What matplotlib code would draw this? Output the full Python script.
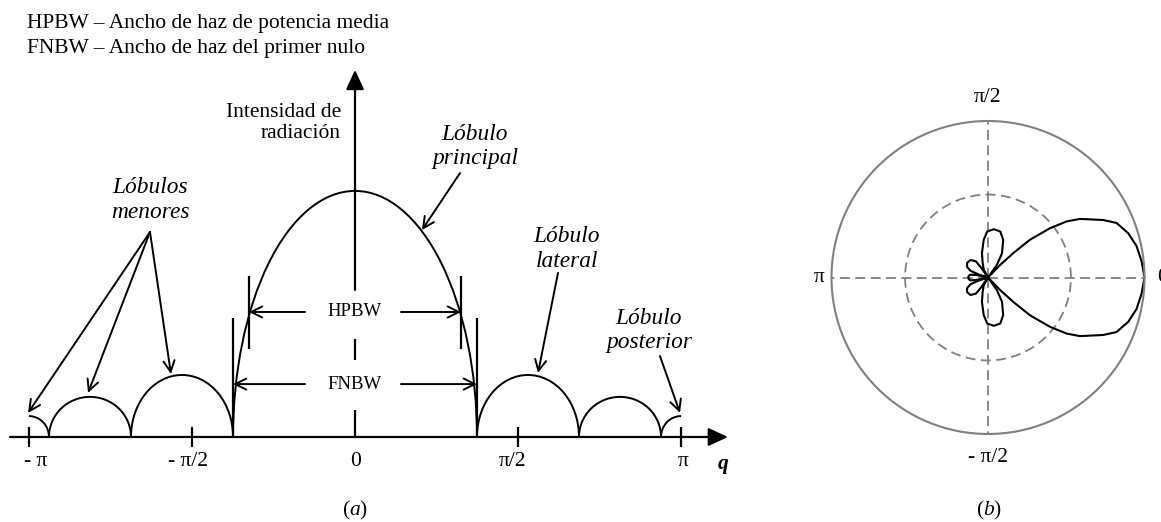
import numpy as np
import matplotlib
matplotlib.use("Agg")
import matplotlib.pyplot as plt
from matplotlib.patches import Arc

plt.rcParams['font.family'] = ['Liberation Serif', 'DejaVu Serif']
plt.rcParams['mathtext.fontset'] = 'custom'
plt.rcParams['mathtext.rm'] = 'Liberation Serif'
plt.rcParams['mathtext.it'] = 'Liberation Serif:italic'

# ---------------- (a) rectangular radiation pattern ----------------
# nulls of the pattern (rad), symmetric about 0
null_angles = [1.175, 2.158, 2.948]
# peak intensity of main lobe, first side lobe, second side lobe, back lobe
lobe_peaks = [1.0, 0.252, 0.163, 0.085]
# half-power beam half-width (rad) and half-power level
hpbw_half = 1.021
half_power = 0.508

tick_values = [-np.pi, -np.pi / 2, np.pi / 2, np.pi]
tick_label_x = [-3.073, -1.609, 0.01, 1.522, 3.160]
tick_labels = ['- π', '- π/2', '0', 'π/2', 'π']

# ---------------- (b) polar pattern (upper half, degrees / normalised r) ----
polar_theta_deg = [0, 6, 12, 17.5, 23, 26.5, 32.5, 35.5, 38.5, 42, 44, 46, 49,
                   53, 55, 60, 68, 75, 83, 91, 96.5, 104, 110, 119, 122,
                   124, 125, 127, 135, 145, 153, 159, 162, 164,
                   166, 168, 171, 176, 180]
polar_r = [1.0, 0.987, 0.97, 0.94, 0.892, 0.823, 0.697, 0.617, 0.506, 0.36, 0.224, 0.11, 0.0,
           0.0, 0.10, 0.179, 0.259, 0.304, 0.311, 0.294, 0.242, 0.16, 0.10, 0.056, 0.0,
           0.0, 0.08, 0.13, 0.158, 0.163, 0.15, 0.12, 0.06, 0.0,
           0.0, 0.08, 0.115, 0.125, 0.125]
half_power_circle = 0.53
polar_tick_deg = [0, 90, 180, 270]
polar_tick_labels = ['0', 'π/2', 'π', '- π/2']

W, H = 1161, 522
fig = plt.figure(figsize=(W / 100, H / 100), dpi=100)
fig.patch.set_facecolor('white')

ax = fig.add_axes([0, 0, 740 / W, 1])
ax.set_xlim(-3.420, 3.709)
ax.set_ylim(-0.3455, 1.776)
ax.axis('off')

LW_LOBE = 1.4
LW_AX = 1.6
FS = 15.5
FS_IT = 16.8

# lobes as elliptical arcs between consecutive nulls
n0, n1, n2 = null_angles
p_main, p_s1, p_s2, p_back = lobe_peaks
ax.add_patch(Arc((0, 0), 2 * n0, 2 * p_main, theta1=0, theta2=180, lw=LW_LOBE, color='k'))
for sgn in (-1, 1):
    ax.add_patch(Arc((sgn * (n0 + n1) / 2, 0), n1 - n0, 2 * p_s1, theta1=0, theta2=180,
                     lw=LW_LOBE, color='k'))
    ax.add_patch(Arc((sgn * (n1 + n2) / 2, 0), n2 - n1, 2 * p_s2, theta1=0, theta2=180,
                     lw=LW_LOBE, color='k'))
back_w = 2 * (np.pi - n2)
ax.add_patch(Arc((np.pi, 0), back_w, 2 * p_back, theta1=90, theta2=180, lw=LW_LOBE, color='k'))
ax.add_patch(Arc((-np.pi, 0), back_w, 2 * p_back, theta1=0, theta2=90, lw=LW_LOBE, color='k'))

# horizontal axis with filled arrow head
ax.annotate('', xy=(3.593, 0), xytext=(-3.324, 0),
            arrowprops=dict(arrowstyle='-|>,head_length=1.19,head_width=0.55',
                            mutation_scale=10, lw=LW_AX, color='k',
                            shrinkA=0, shrinkB=0))
# vertical axis, interrupted by the beamwidth labels
ax.annotate('', xy=(0, 1.492), xytext=(0, 0.598),
            arrowprops=dict(arrowstyle='-|>,head_length=1.19,head_width=0.55',
                            mutation_scale=10, lw=LW_AX, color='k',
                            shrinkA=0, shrinkB=0))
ax.plot([0, 0], [0.313, 0.398], color='k', lw=LW_AX, solid_capstyle='butt')
ax.plot([0, 0], [0.0, 0.110], color='k', lw=LW_AX, solid_capstyle='butt')

# tick marks and labels
for tv in tick_values:
    ax.plot([tv, tv], [-0.0407, 0.0407], color='k', lw=LW_AX, solid_capstyle='butt')
for tx, tl in zip(tick_label_x, tick_labels):
    ax.text(tx, -0.1016, tl, ha='center', va='center', fontsize=FS)
ax.text(3.545, -0.108, 'q', ha='center', va='center', fontsize=FS,
        fontweight='bold', fontstyle='italic')
ax.text(0, -0.297, '($a$)', ha='center', va='center', fontsize=FS)

# HPBW / FNBW construction
open_arrow = dict(arrowstyle='->,head_length=0.8,head_width=0.4', mutation_scale=10,
                  lw=LW_LOBE, color='k', shrinkA=0, shrinkB=0)
for sgn in (-1, 1):
    ax.plot([sgn * hpbw_half] * 2, [0.358, 0.654], color='k', lw=LW_AX, solid_capstyle='butt')
    ax.plot([sgn * n0] * 2, [0.0, 0.484], color='k', lw=LW_AX, solid_capstyle='butt')
ax.annotate('', xy=(-hpbw_half, half_power), xytext=(-0.482, half_power), arrowprops=open_arrow)
ax.annotate('', xy=(hpbw_half, half_power), xytext=(0.443, half_power), arrowprops=open_arrow)
ax.annotate('', xy=(-n0, 0.215), xytext=(-0.482, 0.215), arrowprops=open_arrow)
ax.annotate('', xy=(n0, 0.215), xytext=(0.443, 0.215), arrowprops=open_arrow)
ax.text(0, half_power, 'HPBW', ha='center', va='center', fontsize=13.5)
ax.text(0, 0.215, 'FNBW', ha='center', va='center', fontsize=13.5)

# titles and axis caption
ax.text(-3.160, 1.663, 'HPBW – Ancho de haz de potencia media', ha='left', va='baseline',
        fontsize=FS)
ax.text(-3.160, 1.561, 'FNBW – Ancho de haz del primer nulo', ha='left', va='baseline',
        fontsize=FS)
ax.text(-0.135, 1.276, 'Intensidad de\nradiación', ha='right', va='center',
        multialignment='right', fontsize=FS)

# lobe annotations
ax.text(1.156, 1.181, 'Lóbulo\nprincipal', ha='center', va='center', fontsize=FS_IT,
        fontstyle='italic')
ax.annotate('', xy=(0.645, 0.841), xytext=(1.012, 1.073), arrowprops=open_arrow)

ax.text(-1.975, 0.963, 'Lóbulos\nmenores', ha='center', va='center', fontsize=FS_IT,
        fontstyle='italic')
for tip in [(-3.150, 0.0976), (-2.572, 0.179), (-1.773, 0.256)]:
    ax.annotate('', xy=tip, xytext=(-1.975, 0.833), arrowprops=open_arrow)

ax.text(2.042, 0.764, 'Lóbulo\nlateral', ha='center', va='center', fontsize=FS_IT,
        fontstyle='italic')
ax.annotate('', xy=(1.763, 0.260), xytext=(1.956, 0.667), arrowprops=open_arrow)

ax.text(2.832, 0.433, 'Lóbulo\nposterior', ha='center', va='center', fontsize=FS_IT,
        fontstyle='italic')
ax.annotate('', xy=(3.131, 0.098), xytext=(2.938, 0.329), arrowprops=open_arrow)

# ---------------- (b) polar plot ----------------
cx, cy, R = 988, 277.5, 156.5
pax = fig.add_axes([(cx - R) / W, (H - cy - R) / H, 2 * R / W, 2 * R / H], projection='polar')
pax.set_ylim(0, 1)
grid_style = dict(color='#808080', lw=1.3, linestyle=(0, (5.5, 3)))
pax.set_rgrids([half_power_circle], labels=[''])
pax.set_thetagrids(polar_tick_deg, labels=[''] * 4)
pax.grid(True, **grid_style)
pax.spines['polar'].set_color('#808080')
pax.spines['polar'].set_linewidth(1.5)
pax.tick_params(length=0)

th_up = np.deg2rad(polar_theta_deg)
r_up = np.array(polar_r)
theta_full = np.concatenate([th_up, (2 * np.pi - th_up)[::-1]])
r_full = np.concatenate([r_up, r_up[::-1]])
pax.plot(theta_full, r_full, color='k', lw=1.5)

label_r = [1.08, 1.153, 1.08, 1.147]
label_ha = ['left', 'center', 'center', 'center']
for d, lab, rr, ha in zip(polar_tick_deg, polar_tick_labels, label_r, label_ha):
    pax.text(np.deg2rad(d), rr, lab, ha=ha, va='center', fontsize=FS, clip_on=False)

fig.text(989 / W, 1 - 510 / H, '($b$)', ha='center', va='center', fontsize=FS)

fig.savefig('out.png', dpi=100, facecolor='white')
